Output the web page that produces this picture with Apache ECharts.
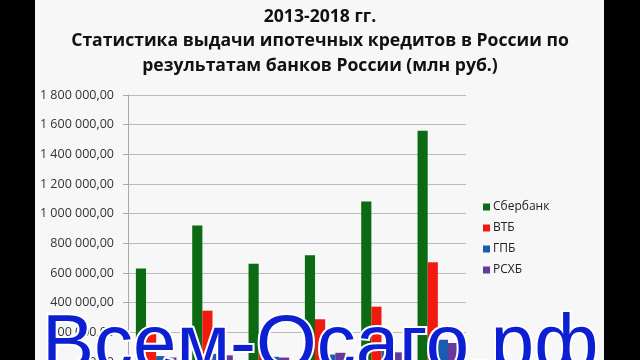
<!DOCTYPE html>
<html><head><meta charset="utf-8">
<script src="https://cdn.jsdelivr.net/npm/echarts@6/dist/echarts.min.js"></script>
<style>html,body{margin:0;padding:0;background:#000}#c{width:640px;height:360px}</style>
</head><body><div id="c"></div>
<script>
const titleLines = ['2013-2018 гг.', 'Статистика выдачи ипотечных кредитов в России по', 'результатам банков России (млн руб.)'];
const categories = ['2013', '2014', '2015', '2016', '2017', '2018'];
const seriesNames = ['Сбербанк', 'ВТБ', 'ГПБ', 'РСХБ'];
const sber = [630000, 920000, 662000, 720000, 1082000, 1559000];
const vtb = [190000, 346000, 180000, 288000, 373000, 672000];
const gpb = [40000, 55000, 35000, 50000, 80000, 150000];
const rshb = [30000, 45000, 30000, 62000, 65000, 128000];
const watermark = 'Всем-Осаго.рф';

const colors = ['#0b6a12', '#f21a10', '#1a5cb0', '#643a9c'];
const values = [sber, vtb, gpb, rshb];
const fmt = v => {
  const s = Math.round(v).toString().replace(/\B(?=(\d{3})+(?!\d))/g, ' ');
  return s + ',00';
};
const tStyle = {fontFamily: 'Open Sans', fontWeight: 'bold', fontSize: 17.6, color: '#111'};
const chart = echarts.init(document.getElementById('c'), null, {renderer: 'canvas'});
chart.setOption({
  backgroundColor: '#000',
  animation: false,
  color: colors,
  title: [
    {text: titleLines[0], left: 'center', top: 3, textStyle: tStyle},
    {text: titleLines[1], left: 'center', top: 27, textStyle: tStyle},
    {text: titleLines[2], left: 'center', top: 52, textStyle: tStyle}
  ],
  graphic: [
    {type: 'rect', z: -10, silent: true, shape: {x: 35, y: 0, width: 569, height: 360}, style: {fill: '#f7f7f7'}},
    {type: 'text', z: 100, left: 40, top: 306, silent: true,
      style: {text: watermark, fontFamily: 'Liberation Sans', fontSize: 78, fill: '#0c1fd2',
        stroke: '#ffffff', lineWidth: 4, shadowColor: 'rgba(0,0,0,0.95)', shadowBlur: 10}}
  ],
  legend: {
    orient: 'vertical', left: 478, top: 196, itemGap: 9, itemWidth: 7, itemHeight: 7,
    icon: 'rect', data: seriesNames,
    textStyle: {fontFamily: 'Open Sans', fontSize: 12, color: '#222', padding: [0, 0, 0, -2]}
  },
  grid: {left: 128, top: 95, width: 338, height: 267, containLabel: false, outerBoundsMode: 'none'},
  xAxis: {
    type: 'category', data: categories,
    axisLine: {show: true, lineStyle: {color: '#999'}},
    axisTick: {show: false}, axisLabel: {show: true, color: '#333'}
  },
  yAxis: {
    type: 'value', min: 0, max: 1800000, interval: 200000,
    axisLine: {show: true, lineStyle: {color: '#aaa'}},
    axisTick: {show: true, length: 5, lineStyle: {color: '#aaa'}},
    splitLine: {lineStyle: {color: '#bbb', width: 1}},
    axisLabel: {formatter: fmt, margin: 14, fontFamily: 'Open Sans', fontSize: 12.5, color: '#333'}
  },
  series: seriesNames.map((n, i) => ({
    name: n, type: 'bar', data: values[i], barGap: '0%', barCategoryGap: '28%',
    itemStyle: {color: colors[i]}
  }))
});
</script></body></html>
